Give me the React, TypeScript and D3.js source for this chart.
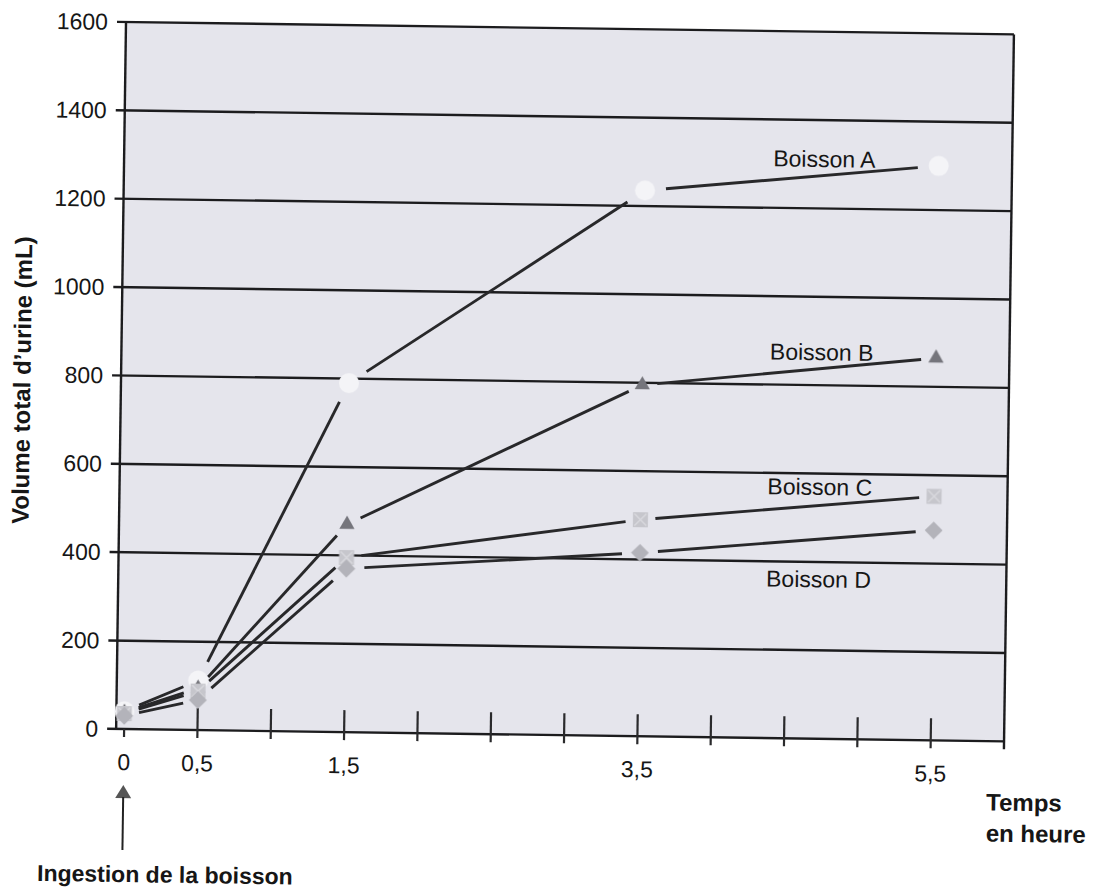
import { useEffect, useRef } from "react";
import * as d3 from "d3";

// temps de mesure (heures) et volume total d'urine (mL)
const times = [0, 0.5, 1.5, 3.5, 5.5];
const boissonA = [40, 112, 790, 1235, 1300];
const boissonB = [38, 95, 470, 795, 865];
const boissonC = [35, 88, 395, 490, 552];
const boissonD = [30, 68, 370, 415, 475];

const yTicks = [0, 200, 400, 600, 800, 1000, 1200, 1400, 1600];
const xTicks = [0, 0.5, 1, 1.5, 2, 2.5, 3, 3.5, 4, 4.5, 5, 5.5];
const xLabels = [0, 0.5, 1.5, 3.5, 5.5];
const seriesNames = ["Boisson A", "Boisson B", "Boisson C", "Boisson D"];

const FONT = "'Liberation Sans', Arial, Helvetica, sans-serif";

const App = () => {
  const svgRef = useRef<SVGSVGElement | null>(null);

  useEffect(() => {
    const root = d3.select(svgRef.current);
    root.selectAll("*").remove();

    const left = 126;
    const top = 22;
    const bottom = 729;

    const x = d3.scaleLinear().domain([0, 6]).range([134, 1014]);
    const y = d3.scaleLinear().domain([0, 1600]).range([bottom, top]);
    const right = x(6);

    const defs = root.append("defs");
    defs.append("filter").attr("id", "soft")
      .append("feGaussianBlur").attr("stdDeviation", 0.7);

    // le scan est légèrement tourné
    const g = root.append("g").attr("transform", `rotate(0.8 ${left} ${top})`);

    g.append("rect")
      .attr("x", left).attr("y", top)
      .attr("width", right - left).attr("height", bottom - top)
      .attr("fill", "#e5e5ec");

    // lignes horizontales + graduations de l'axe y
    yTicks.forEach(t => {
      g.append("line")
        .attr("x1", left - 9).attr("x2", right)
        .attr("y1", y(t)).attr("y2", y(t))
        .attr("stroke", "#1c1c1e").attr("stroke-width", 2.4);
      g.append("text")
        .attr("x", left - 18).attr("y", y(t)).attr("dy", "0.35em")
        .attr("text-anchor", "end")
        .style("font-family", FONT).style("font-size", "23px").style("fill", "#161616")
        .text(t);
    });

    // cadre gauche / droit
    g.append("line").attr("x1", left).attr("x2", left).attr("y1", top).attr("y2", bottom)
      .attr("stroke", "#1c1c1e").attr("stroke-width", 2.4);
    g.append("line").attr("x1", right).attr("x2", right).attr("y1", top).attr("y2", bottom + 8)
      .attr("stroke", "#1c1c1e").attr("stroke-width", 2.4);

    // graduations de l'axe x
    xTicks.forEach(t => {
      g.append("line")
        .attr("x1", x(t)).attr("x2", x(t))
        .attr("y1", t === 0 ? bottom : bottom - 22).attr("y2", bottom + 8)
        .attr("stroke", "#2a2a2c").attr("stroke-width", 2.2);
    });
    xLabels.forEach(t => {
      g.append("text")
        .attr("x", x(t)).attr("y", bottom + 33).attr("dy", "0.35em")
        .attr("text-anchor", "middle")
        .style("font-family", FONT).style("font-size", "23px").style("fill", "#161616")
        .text(String(t).replace(".", ","));
    });

    // segments (avec un espace autour des marqueurs)
    const series = [boissonA, boissonB, boissonC, boissonD];
    const gaps = [21, 15, 15, 18];
    series.forEach((vals, si) => {
      for (let i = 0; i < vals.length - 1; i++) {
        const x0 = x(times[i]), y0 = y(vals[i]);
        const x1 = x(times[i + 1]), y1 = y(vals[i + 1]);
        const len = Math.hypot(x1 - x0, y1 - y0);
        const gap = Math.min(gaps[si], len * 0.2);
        const ux = (x1 - x0) / len, uy = (y1 - y0) / len;
        g.append("line")
          .attr("x1", x0 + ux * gap).attr("y1", y0 + uy * gap)
          .attr("x2", x1 - ux * gap).attr("y2", y1 - uy * gap)
          .attr("stroke", "#28282a").attr("stroke-width", 2.9);
      }
    });

    // marqueurs
    const marks = g.append("g").attr("filter", "url(#soft)");
    times.forEach((t, i) => {
      marks.append("circle")
        .attr("cx", x(t)).attr("cy", y(boissonA[i])).attr("r", 10)
        .attr("fill", "#f4f4f7");
    });
    times.forEach((t, i) => {
      marks.append("path")
        .attr("d", d3.symbol().type(d3.symbolTriangle).size(100)())
        .attr("transform", `translate(${x(t)},${y(boissonB[i])})`)
        .attr("fill", "#74747b");
    });
    times.forEach((t, i) => {
      const cx = x(t), cy = y(boissonC[i]);
      marks.append("rect")
        .attr("x", cx - 7.5).attr("y", cy - 7.5).attr("width", 15).attr("height", 15)
        .attr("fill", "#c6c6cc");
      marks.append("path")
        .attr("d", `M${cx - 6},${cy - 6}L${cx + 6},${cy + 6}M${cx + 6},${cy - 6}L${cx - 6},${cy + 6}`)
        .attr("stroke", "#d8d8dd").attr("stroke-width", 1.5);
    });
    times.forEach((t, i) => {
      marks.append("path")
        .attr("d", d3.symbol().type(d3.symbolSquare).size(160)())
        .attr("transform", `translate(${x(t)},${y(boissonD[i])}) rotate(45)`)
        .attr("fill", "#b3b3ba");
    });

    // étiquettes des séries
    const labelAt = [[4.72, 1312], [4.72, 875], [4.72, 570], [4.72, 361]];
    seriesNames.forEach((name, i) => {
      g.append("text")
        .attr("x", x(labelAt[i][0])).attr("y", y(labelAt[i][1])).attr("dy", "0.35em")
        .attr("text-anchor", "middle")
        .style("font-family", FONT).style("font-size", "23px").style("fill", "#161616")
        .text(name);
    });

    // titres
    g.append("text")
      .attr("transform", `translate(27, ${(top + bottom) / 2 + 6}) rotate(-90)`)
      .attr("dy", "0.35em").attr("text-anchor", "middle")
      .style("font-family", FONT).style("font-size", "24px").style("font-weight", "bold")
      .style("fill", "#161616")
      .text("Volume total d’urine (mL)");

    g.append("text")
      .attr("x", 997).attr("y", 790).attr("dy", "0.35em")
      .style("font-family", FONT).style("font-size", "24px").style("font-weight", "bold")
      .style("fill", "#161616")
      .text("Temps");
    g.append("text")
      .attr("x", 997).attr("y", 821).attr("dy", "0.35em")
      .style("font-family", FONT).style("font-size", "24px").style("font-weight", "bold")
      .style("fill", "#161616")
      .text("en heure");

    // flèche d'ingestion
    const ax = x(0);
    g.append("path")
      .attr("d", `M${ax},${785}L${ax + 8},${798}L${ax - 8},${798}Z`)
      .attr("fill", "#555");
    g.append("line")
      .attr("x1", ax).attr("x2", ax).attr("y1", 797).attr("y2", 850)
      .attr("stroke", "#222").attr("stroke-width", 2);
    g.append("text")
      .attr("x", 49).attr("y", 874).attr("dy", "0.35em")
      .style("font-family", FONT).style("font-size", "23px").style("font-weight", "bold")
      .style("fill", "#161616")
      .text("Ingestion de la boisson");
  }, []);

  return (
    <svg ref={svgRef} width={1094} height={892}
      style={{ position: "absolute", left: 0, top: 0, background: "#fff" }} />
  );
};

export default App;
